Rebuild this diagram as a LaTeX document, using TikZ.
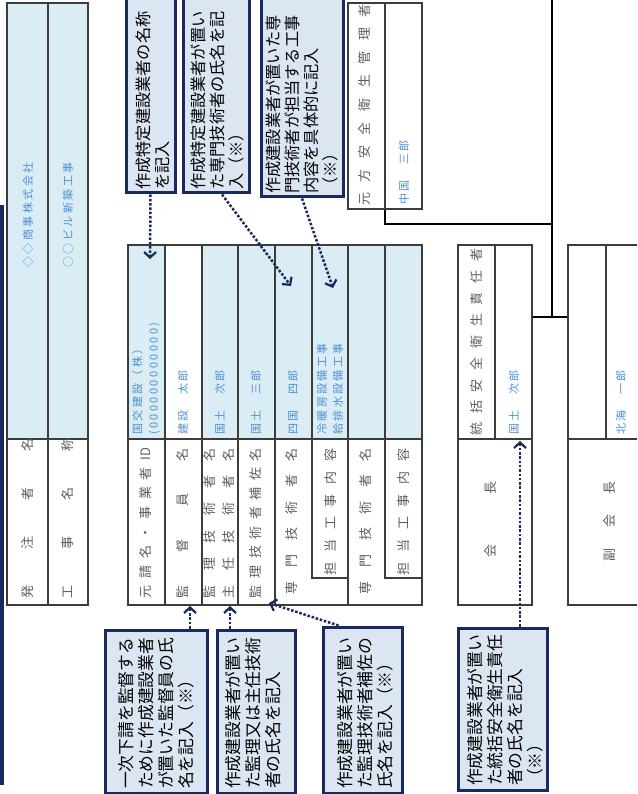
\documentclass[tikz,border=0pt]{standalone}
\usepackage{fontspec}
\setmainfont{Noto Sans CJK JP}
\newfontfamily\jpblue[LetterSpace=22]{Noto Sans CJK JP}
\usetikzlibrary{arrows.meta}
\definecolor{lblue}{HTML}{DAEDF4}
\definecolor{cfill}{HTML}{DCE6F2}
\definecolor{navy}{HTML}{1B2A5E}
\definecolor{tgray}{HTML}{3C3C3C}
\definecolor{labgray}{HTML}{5E5E5E}
\definecolor{valblue}{HTML}{4F8FD3}
\begin{document}
\begin{tikzpicture}[x=1pt,y=-1pt,
  tl/.style={draw=tgray, line width=1.2pt},
  lab/.style={text=labgray, font=\fontsize{13}{15}\selectfont, inner sep=0pt, rotate=90},
  val/.style={text=valblue, font=\jpblue\fontsize{11}{16}\selectfont, inner sep=0pt, rotate=90, align=left},
  callout/.style={draw=navy, fill=cfill, line width=3pt, inner sep=0pt},
  ctxt/.style={inner sep=0pt, rotate=90, anchor=north west, align=left, text=black},
  ctop/.style={ctxt, font=\fontsize{16.2}{19}\selectfont},
  cbot/.style={ctxt, font=\fontsize{16.8}{20}\selectfont},
  arr/.style={draw=navy, line width=2.5pt, dash pattern=on 2.5pt off 1.8pt,
    -{Straight Barb[length=5.5pt,width=12pt,line width=2.2pt]}},
  conn/.style={draw=black, line width=2.8pt},
  orgbox/.style={draw=tgray, line width=1.2pt, fill=white, inner sep=0pt}
]
\useasboundingbox (0,0) rectangle (637,794);
\clip (0,0) rectangle (637,794);
\fill[white] (0,0) rectangle (637,794);

% left navy edge
\draw[navy, line width=3.5pt] (2,205) -- (2,785);

% ---------- left table ----------
\fill[lblue] (7,3) rectangle (88,439);
\draw[tl] (7,3) rectangle (88,605);
\draw[tl] (48,3) -- (48,605);
\draw[tl] (7,439) -- (88,439);
\node[lab] (l1) at (28,518) {\makebox[160pt]{発\hfill 注\hfill 者\hfill 名}};
\node[lab] (l2) at (68,518) {\makebox[160pt]{工\hfill 事\hfill 名\hfill 称}};
\node[val] (v1) at (28,215) {◇◇商事株式会社};
\node[val] (v2) at (68,215) {○○ビル新築工事};

% ---------- main table ----------
\fill[lblue] (128,245) rectangle (422,439);
\fill[white] (165,245) rectangle (202,439);
\draw[tl] (128,245) rectangle (422,605);
\draw[tl] (128,439) -- (422,439);
\foreach \xx in {165,202,238,275,348} \draw[tl] (\xx,245) -- (\xx,605);
\draw[tl] (312,245) -- (312,578) -- (348,578);
\draw[tl] (385,245) -- (385,578) -- (422,578);

\node[lab] (m1) at (146,523) {\makebox[150pt]{元\hfill 請\hfill 名\hfill ・\hfill 事\hfill 業\hfill 者\hfill ID}};
\node[lab] (m2) at (183,523) {\makebox[150pt]{監\hfill 督\hfill 員\hfill 名}};
\node[lab] (m3a) at (210,523) {\makebox[150pt]{監\hfill 理\hfill 技\hfill 術\hfill 者\hfill 名}};
\node[lab] (m3b) at (229,523) {\makebox[150pt]{主\hfill 任\hfill 技\hfill 術\hfill 者\hfill 名}};
\node[lab] (m4) at (256,523) {\makebox[150pt]{監\hfill 理\hfill 技\hfill 術\hfill 者\hfill 補\hfill 佐\hfill 名}};
\node[lab] (m5) at (292,521) {\makebox[146pt]{専\hfill 門\hfill 技\hfill 術\hfill 者\hfill 名}};
\node[lab] (m6) at (331,512) {\makebox[127pt]{担\hfill 当\hfill 工\hfill 事\hfill 内\hfill 容}};
\node[lab] (m7) at (366,521) {\makebox[146pt]{専\hfill 門\hfill 技\hfill 術\hfill 者\hfill 名}};
\node[lab] (m8) at (404,512) {\makebox[127pt]{担\hfill 当\hfill 工\hfill 事\hfill 内\hfill 容}};

\node[val, anchor=west] (mv1) at (146,435) {国交建設（株）\\(000000000000)};
\node[val, anchor=west] (mv2) at (183,435) {建設　太郎};
\node[val, anchor=west] (mv3) at (220,435) {国土　次郎};
\node[val, anchor=west] (mv4) at (256,435) {国土　三郎};
\node[val, anchor=west] (mv5) at (293,435) {四国　四郎};
\node[val, anchor=west] (mv6) at (330,435) {冷暖房設備工事\\給排水設備工事};

% ---------- top right table ----------
\node[orgbox, minimum width=74pt, minimum height=206pt] (mgr) at (385,106) {};
\draw[tl] (385,3) -- (385,209);
\node[lab] (r1) at (365,105) {\makebox[202pt]{元\hfill 方\hfill 安\hfill 全\hfill 衛\hfill 生\hfill 管\hfill 理\hfill 者}};
\node[val, anchor=west] (rv1) at (404,205) {中国　三郎};

% ---------- org boxes ----------
\node[orgbox, minimum width=74pt, minimum height=360pt] (kaicho) at (495,425) {};
\draw[tl] (495,245) -- (495,439);
\draw[tl] (458,439) -- (532,439);
\node[lab] (k1) at (477,342) {\makebox[187pt]{統\hfill 括\hfill 安\hfill 全\hfill 衛\hfill 生\hfill 責\hfill 任\hfill 者}};
\node[val, anchor=west] (kv1) at (514,435) {国土　次郎};
\node[lab] (k2) at (491,519) {\makebox[76pt]{会\hfill 長}};

\node[orgbox, minimum width=92pt, minimum height=360pt] (fuku) at (614,425) {};
\draw[tl] (606,245) -- (606,439);
\draw[tl] (568,439) -- (660,439);
\node[val, anchor=west] (fv1) at (621,435) {北海　一郎};
\node[lab] (f2) at (610,521) {\makebox[80pt]{副\hfill 会\hfill 長}};

% connectors
\coordinate (j1) at (552,224);
\coordinate (jtop) at (552,-5);
\coordinate (j2) at (552,317);
\draw[conn] (mgr.south) |- (j1);
\draw[conn] (jtop) -- (j2);
\draw[conn] (kaicho.east |- j2) -- (fuku.west |- j2);

% ---------- callouts top ----------
\node[callout, minimum width=49pt, minimum height=213pt] (bA) at (150.5,86.5) {};
\node[ctop] (tA) at (136,190) {作成特定建設業者の名称\\を記入};
\node[callout, minimum width=66pt, minimum height=213pt] (bB) at (216,86.5) {};
\node[ctop] (tB) at (191,190) {作成特定建設業者が置い\\た専門技術者の氏名を記\\入（※）};
\node[callout, minimum width=82pt, minimum height=217pt] (bC) at (302,88.5) {};
\node[ctop] (tC) at (266,194) {作成建設業者が置いた専\\門技術者が担当する工事\\内容を具体的に記入\\（※）};

% ---------- callouts bottom ----------
\node[callout, minimum width=102pt, minimum height=163pt] (bD) at (156,711.5) {};
\node[cbot] (tD) at (118,789) {一次下請を監督する\\ために作成建設業者\\が置いた監督員の氏\\名を記入（※）};
\node[callout, minimum width=78pt, minimum height=163pt] (bE) at (256,711.5) {};
\node[cbot] (tE) at (225,789) {作成建設業者が置い\\た監理又は主任技術\\者の氏名を記入};
\node[callout, minimum width=79pt, minimum height=166pt] (bF) at (362.5,710) {};
\node[cbot] (tF) at (337,789) {作成建設業者が置い\\た監理技術者補佐の\\氏名を記入（※）};
\node[callout, minimum width=89pt, minimum height=162pt] (bG) at (502.5,709) {};
\node[cbot] (tG) at (467,786) {作成建設業者が置い\\た統括安全衛生責任\\者の氏名を記入\\（※）};

% ---------- arrows ----------
\coordinate (aA) at (150,259);
\coordinate (aB) at (291,286);
\coordinate (aC) at (333,288);
\coordinate (aD) at (190,606);
\coordinate (aE) at (230,606);
\coordinate (aF) at (269,603);
\coordinate (aG) at (520,441);
\draw[arr] (bA.south) -- (aA);
\draw[arr] ([xshift=6pt]bB.south) -- (aB);
\draw[arr] (bC.south) -- (aC);
\draw[arr] (aD |- bD.north) -- (aD);
\draw[arr] (aE |- bE.north) -- (aE);
\draw[arr] ([xshift=17pt]bF.north west) -- (aF);
\draw[arr] (aG |- bG.north) -- (aG);
\end{tikzpicture}
\end{document}
